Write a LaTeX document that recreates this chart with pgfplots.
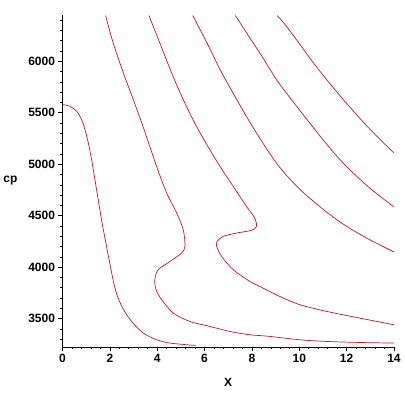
\documentclass[border=0pt]{standalone}
\usepackage{fontspec}
\setmainfont{Liberation Sans}
\usepackage{pgfplots}
\pgfplotsset{compat=1.18}
\definecolor{mred}{RGB}{200,20,40}
\begin{document}
\begin{tikzpicture}
\begin{axis}[
 scale only axis, width=331.5pt, height=332pt,
 xmin=0,xmax=14,ymin=3225,ymax=6450,
 axis lines=left, axis line style={-, line width=0.9pt},
 xtick={0,2,...,14}, ytick={3500,4000,...,6000},
 minor xtick={0.4,0.8,1.2,1.6,2.4,2.8,3.2,3.6,4.4,4.8,5.2,5.6,6.4,6.8,7.2,7.6,8.4,8.8,9.2,9.6,10.4,10.8,11.2,11.6,12.4,12.8,13.2,13.6},
 minor ytick={3300,3400,3600,3700,3800,3900,4100,4200,4300,4400,4600,4700,4800,4900,5100,5200,5300,5400,5600,5700,5800,5900,6100,6200,6300,6400},
 tick align=outside, major tick length=4pt, minor tick length=2pt,
 tick style={black, line width=0.7pt},
 tick label style={font=\fontsize{12}{12}\selectfont\bfseries},
 /pgf/number format/assume math mode=true,
 /pgf/number format/1000 sep={},
 xticklabels={\textbf{0},\textbf{2},\textbf{4},\textbf{6},\textbf{8},\textbf{10},\textbf{12},\textbf{14}},
 yticklabels={\textbf{3500},\textbf{4000},\textbf{4500},\textbf{5000},\textbf{5500},\textbf{6000}},
 xlabel={\textbf{X}}, ylabel={\textbf{cp}},
 label style={font=\fontsize{12}{12}\selectfont\bfseries},
 x label style={at={(axis description cs:0.5,-0.108)},anchor=center},
 y label style={at={(axis description cs:-0.157,0.5)},rotate=-90,anchor=center},
 mycurve/.style={mred, line width=0.7pt, smooth, tension=0.5, no marks},
]
% curve 1
\addplot[mycurve] coordinates {(0,5580) (0.32,5563) (0.60,5514) (0.81,5433) (0.95,5336) (1.09,5207) (1.23,5045) (1.37,4850) (1.52,4640) (1.68,4420) (1.86,4202) (2.05,3976) (2.18,3830) (2.35,3700) (2.60,3580) (2.95,3465) (3.41,3361) (3.97,3296) (4.54,3263) (5.62,3240)};
% curve 2
\addplot[mycurve] coordinates {(1.82,6445) (2.14,6179) (2.57,5887) (2.99,5628) (3.38,5380) (3.72,5150) (4.05,4930) (4.42,4710) (4.82,4527) (5.10,4364) (5.17,4202) (5.03,4138) (4.54,4056) (4.04,3976) (3.90,3879) (3.95,3781) (4.19,3684) (4.68,3555) (5.38,3473) (6.22,3425) (7.07,3376) (7.91,3344) (8.76,3328) (10.02,3295) (11.15,3279) (12.55,3269) (14,3263)};
% curve 3
\addplot[mycurve] coordinates {(3.65,6445) (4.11,6179) (4.61,5887) (5.10,5628) (5.66,5368) (6.22,5142) (6.65,4980) (7.21,4785) (7.77,4591) (8.12,4478) (8.19,4397) (7.98,4358) (7.35,4332) (6.78,4299) (6.53,4251) (6.51,4202) (6.72,4105) (7.21,3976) (7.91,3862) (8.33,3813) (9.18,3716) (10.02,3636) (11.15,3571) (12.55,3506) (14,3441)};
% curve 4
\addplot[mycurve] coordinates {(5.50,6445) (6.10,6179) (6.73,5887) (7.36,5628) (7.85,5433) (8.46,5207) (9.03,5013) (9.56,4867) (10.19,4721) (11.12,4542) (12.00,4397) (12.97,4268) (14,4148)};
% curve 5
\addplot[mycurve] coordinates {(7.30,6445) (7.85,6250) (8.35,6075) (9.04,5822) (9.67,5628) (10.44,5401) (11.29,5158) (11.99,4980) (12.97,4770) (14,4585)};
% curve 6
\addplot[mycurve] coordinates {(9.06,6445) (9.39,6360) (9.88,6211) (10.58,5990) (11.43,5745) (12.27,5520) (13.11,5310) (14,5110)};
\end{axis}
\path (current axis.south west) ++(-62.5pt,-57.7pt) coordinate (bbA);
\path (current axis.north east) ++(11pt,15pt) coordinate (bbB);
\path (bbA) rectangle (bbB);
\end{tikzpicture}
\end{document}
